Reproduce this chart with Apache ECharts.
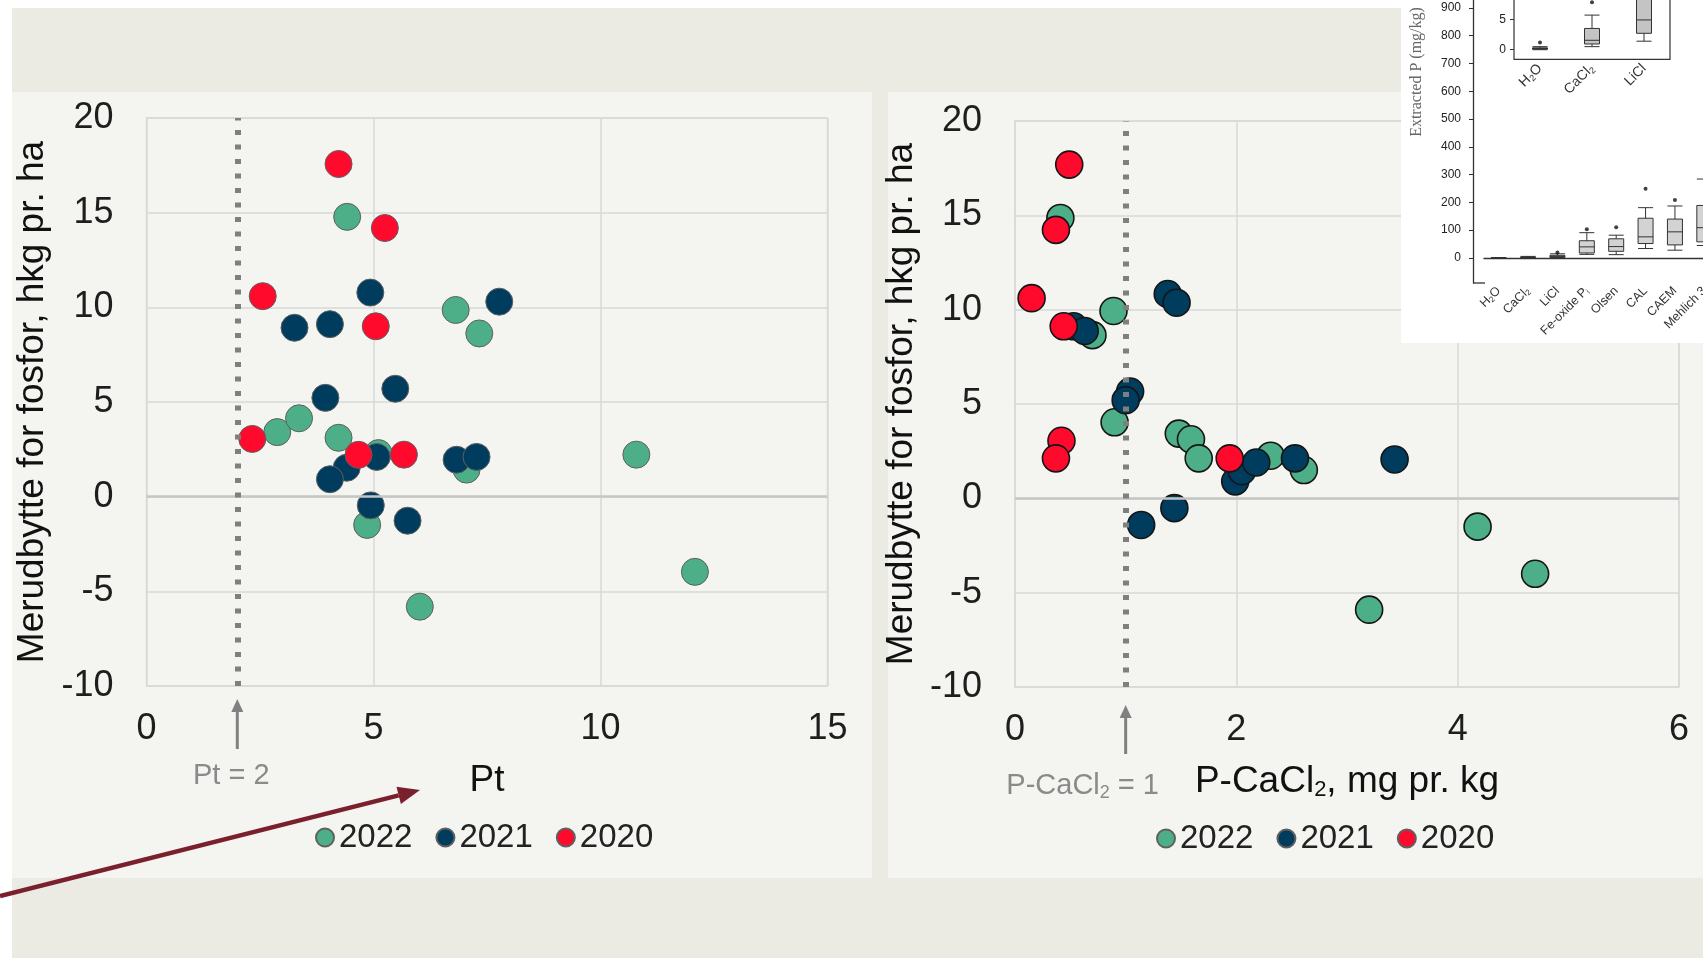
<!DOCTYPE html>
<html>
<head>
<meta charset="utf-8">
<script src="https://cdn.jsdelivr.net/npm/echarts@6/dist/echarts.min.js"></script>
<style>
html,body{margin:0;padding:0;background:#ffffff;}
#c{width:1703px;height:958px;}
</style>
</head>
<body>
<div id="c"></div>
<script>
// ---------- DATA ----------
const years = ['2022', '2021', '2020'];
const yearColors = ['#4daf88', '#003c5e', '#ff0a2d'];

// Left chart: Pt vs yield gain (hkg/ha)
const pt2022 = [[4.42,14.78],[6.81,9.86],[7.33,8.62],[2.88,3.41],[3.36,4.14],[4.23,3.11],[5.11,2.3],[7.05,1.43],[4.86,-1.49],[6.02,-5.81],[10.79,2.22],[12.08,-3.97]];
const pt2021 = [[4.93,10.78],[7.77,10.3],[3.26,8.92],[4.04,9.11],[3.94,5.22],[5.48,5.7],[5.07,2.1],[6.83,1.95],[7.27,2.1],[4.41,1.53],[4.04,0.92],[4.94,-0.46],[5.75,-1.27]];
const pt2020 = [[4.23,17.57],[5.25,14.19],[2.56,10.59],[5.05,9.0],[2.33,3.05],[4.67,2.21],[5.67,2.22]];

// Right chart: P-CaCl2 (mg/kg) vs yield gain (hkg/ha)
const ca2022 = [[0.41,14.86],[0.89,9.93],[0.70,8.65],[0.90,4.03],[1.48,3.43],[1.59,3.13],[1.66,2.12],[2.31,2.26],[2.61,1.5],[4.18,-1.5],[4.70,-4.0],[3.20,-5.9]];
const ca2021 = [[1.38,10.83],[1.46,10.37],[0.53,9.12],[0.63,8.87],[1.04,5.66],[1.0,5.2],[1.99,0.9],[2.05,1.44],[2.18,1.9],[2.53,2.12],[3.43,2.06],[1.44,-0.52],[1.14,-1.41]];
const ca2020 = [[0.49,17.69],[0.37,14.23],[0.15,10.61],[0.44,9.12],[0.42,3.05],[0.37,2.12],[1.94,2.12]];

const ptTicks = [0, 5, 10, 15];
const caTicks = [0, 2, 4, 6];
const gainTicks = [-10, -5, 0, 5, 10, 15, 20];
const ptThreshold = 2;
const caThreshold = 1;

// Inset: extracted P by method (box plot, mg/kg)
const methodLabels = ['H{s|2}O', 'CaCl{s|2}', 'LiCl', 'Fe-oxide P{s|i}', 'Olsen', 'CAL', 'CAEM', 'Mehlich 3'];
const methodStats = [
  [0, 0.1, 0.2, 0.3, 0.5],
  [0.5, 0.94, 1.55, 3.5, 5.7],
  [1.4, 2.7, 4.9, 9.5, 15],
  [13, 18, 40, 62, 91],
  [12, 24, 41, 69, 82],
  [34, 52, 76, 143, 181],
  [28, 47, 94, 140, 187],
  [45, 58, 109, 189, 284]
];
const methodOutliers = [[2, 20], [3, 103], [4, 111], [5, 249], [6, 209]];
const insetTicks = [0, 100, 200, 300, 400, 500, 600, 700, 800, 900];

const zoomLabels = ['H{s|2}O', 'CaCl{s|2}', 'LiCl'];
const zoomStats = [
  [0, 0.1, 0.2, 0.3, 0.5],
  [0.5, 0.94, 1.55, 3.5, 5.7],
  [1.4, 2.7, 4.9, 9.5, 15]
];
const zoomOutliers = [[0, 1.2], [1, 7.8]];
const zoomTicks = [0, 5];

// ---------- LAYOUT / STYLE ----------
const FF = "'Liberation Sans', Arial, Helvetica, sans-serif";
const gridLine = {lineStyle: {color: '#d9d9d9', width: 1.5}};

function mainX(grid, ticks, name, gap) {
  return {
    gridIndex: grid, type: 'value', min: ticks[0], max: ticks[ticks.length - 1],
    interval: ticks[1] - ticks[0],
    axisLine: {show: false}, axisTick: {show: false},
    splitLine: gridLine,
    axisLabel: {fontSize: 36, color: '#1e1e1e', margin: 25, fontFamily: FF},
    name: name, nameLocation: 'middle', nameGap: gap,
    nameTextStyle: {fontSize: 37, color: '#111', fontFamily: FF,
      rich: {s: {fontSize: 22, fontFamily: FF, color: '#111', padding: [16, 0, 0, 0]}}}
  };
}
function mainY(grid) {
  return {
    gridIndex: grid, type: 'value', min: gainTicks[0], max: gainTicks[gainTicks.length - 1],
    interval: gainTicks[1] - gainTicks[0],
    axisLine: {show: false}, axisTick: {show: false},
    splitLine: gridLine,
    axisLabel: {fontSize: 36, color: '#1e1e1e', margin: 33, fontFamily: FF},
    name: 'Merudbytte for fosfor, hkg pr. ha', nameLocation: 'middle', nameGap: 95,
    nameTextStyle: {fontSize: 37, color: '#111', fontFamily: FF}
  };
}
function scatterSeries(name, data, xi, color, border, bw) {
  return {
    name: name, type: 'scatter', xAxisIndex: xi, yAxisIndex: xi, data: data,
    symbolSize: 27, z: 2, silent: true,
    itemStyle: {color: color, borderColor: border, borderWidth: bw, opacity: 1}
  };
}
function lineMarker(xi, mark, style, z) {
  return {
    type: 'scatter', xAxisIndex: xi, yAxisIndex: xi, data: [], z: z, silent: true,
    markLine: {silent: true, symbol: 'none', animation: false, label: {show: false},
      data: [mark], lineStyle: style}
  };
}

const chart = echarts.init(document.getElementById('c'), null, {renderer: 'canvas'});

const option = {
  backgroundColor: '#ffffff',
  animation: false,
  grid: [
    {left: 146.5, top: 118, width: 681, height: 568, show: true, borderColor: '#d9d9d9', borderWidth: 1.5,
      backgroundColor: 'transparent', outerBoundsMode: 'none', containLabel: false},
    {left: 1015, top: 121, width: 664, height: 566, show: true, borderColor: '#d9d9d9', borderWidth: 1.5,
      backgroundColor: 'transparent', outerBoundsMode: 'none', containLabel: false},
    {left: 1484, top: -20, width: 235, height: 303, outerBoundsMode: 'none', containLabel: false},
    {left: 1514, top: -11, width: 156, height: 70.4, show: true, borderColor: '#333', borderWidth: 1.2,
      backgroundColor: '#ffffff', z: 4, outerBoundsMode: 'none', containLabel: false}
  ],
  xAxis: [
    mainX(0, ptTicks, 'Pt', 76),
    mainX(1, caTicks, 'P-CaCl{s|2}, mg pr. kg', 76),
    {gridIndex: 2, type: 'category', data: methodLabels, z: 4,
      axisLine: {show: true, lineStyle: {color: '#333', width: 1.3}},
      axisTick: {show: false}, splitLine: {show: false},
      axisLabel: {rotate: 45, fontSize: 12.5, color: '#333', margin: 6, interval: 0, fontFamily: FF,
        rich: {s: {fontSize: 8, color: '#333', padding: [6, 0, 0, 0]}}}},
    {gridIndex: 3, type: 'category', data: zoomLabels, z: 5,
      axisLine: {show: false}, axisTick: {show: false}, splitLine: {show: false},
      axisLabel: {rotate: 45, fontSize: 14, color: '#333', margin: 7, interval: 0, fontFamily: FF,
        rich: {s: {fontSize: 9, color: '#333', padding: [7, 0, 0, 0]}}}}
  ],
  yAxis: [
    mainY(0),
    mainY(1),
    {gridIndex: 2, type: 'value', min: -90, max: 1000, offset: 11, z: 4,
      axisLine: {show: true, lineStyle: {color: '#333', width: 1.3}},
      axisTick: {show: true, customValues: insetTicks, length: 4, lineStyle: {color: '#333'}},
      axisLabel: {customValues: insetTicks, fontSize: 12, color: '#222', margin: 12, fontFamily: FF},
      splitLine: {show: false}},
    {gridIndex: 3, type: 'value', min: -1.6, max: 10, z: 5,
      axisLine: {show: false},
      axisTick: {show: true, customValues: zoomTicks, length: 4, lineStyle: {color: '#333'}},
      axisLabel: {customValues: zoomTicks, fontSize: 12, color: '#222', margin: 8, fontFamily: FF},
      splitLine: {show: false}}
  ],
  legend: [
    {data: years, left: 315, top: 821, icon: 'circle', itemWidth: 18, itemHeight: 18, itemGap: 23,
      padding: 0, selectedMode: false, textStyle: {fontSize: 33, color: '#222', fontFamily: FF}},
    {data: years, left: 1156, top: 822, icon: 'circle', itemWidth: 18, itemHeight: 18, itemGap: 23,
      padding: 0, selectedMode: false, textStyle: {fontSize: 33, color: '#222', fontFamily: FF}}
  ],
  series: [
    lineMarker(0, {yAxis: 0}, {color: '#c6c6c6', width: 2.5, type: 'solid'}, 1),
    scatterSeries(years[0], pt2022, 0, yearColors[0], '#5f5f5f', 1),
    scatterSeries(years[1], pt2021, 0, yearColors[1], '#5f5f5f', 1),
    scatterSeries(years[2], pt2020, 0, yearColors[2], '#5f5f5f', 1),
    lineMarker(0, {xAxis: ptThreshold}, {color: '#7f7f7f', width: 6, type: [5, 9.5], cap: 'butt'}, 3),

    lineMarker(1, {yAxis: 0}, {color: '#c6c6c6', width: 2.5, type: 'solid'}, 1),
    scatterSeries(years[0], ca2022, 1, yearColors[0], '#151515', 1.6),
    scatterSeries(years[1], ca2021, 1, yearColors[1], '#151515', 1.6),
    scatterSeries(years[2], ca2020, 1, yearColors[2], '#151515', 1.6),
    lineMarker(1, {xAxis: caThreshold}, {color: '#7f7f7f', width: 6, type: [5, 9.5], cap: 'butt'}, 3),

    {name: 'methods', type: 'boxplot', xAxisIndex: 2, yAxisIndex: 2, data: methodStats, z: 5, silent: true,
      boxWidth: [15, 15], itemStyle: {color: '#d3d3d3', borderColor: '#333', borderWidth: 1}},
    {name: 'methodOut', type: 'scatter', xAxisIndex: 2, yAxisIndex: 2, data: methodOutliers, z: 5, silent: true,
      symbolSize: 4, itemStyle: {color: '#111'}},
    {name: 'zoomBox', type: 'boxplot', xAxisIndex: 3, yAxisIndex: 3, data: zoomStats, z: 6, silent: true,
      boxWidth: [15, 15], itemStyle: {color: '#c4c4c4', borderColor: '#333', borderWidth: 1}},
    {name: 'zoomOut', type: 'scatter', xAxisIndex: 3, yAxisIndex: 3, data: zoomOutliers, z: 6, silent: true,
      symbolSize: 4, itemStyle: {color: '#111'}}
  ]
};
chart.setOption(option);

// ---------- ANNOTATIONS (positions derived from the axes) ----------
const leftArrowX = chart.convertToPixel({xAxisIndex: 0}, ptThreshold);
const rightArrowX = chart.convertToPixel({xAxisIndex: 1}, caThreshold);
const insetAxisY = chart.convertToPixel({yAxisIndex: 2}, -90);

function grayArrow(x, tipY, baseY) {
  return [
    {type: 'line', z: 20, silent: true, shape: {x1: x, y1: tipY + 12, x2: x, y2: baseY},
      style: {stroke: '#808080', lineWidth: 3}},
    {type: 'polygon', z: 20, silent: true, shape: {points: [[x, tipY], [x - 6, tipY + 13], [x + 6, tipY + 13]]},
      style: {fill: '#808080'}}
  ];
}

const tip = [420, 790], tail = [0, 896];
const dx = tip[0] - tail[0], dy = tip[1] - tail[1], L = Math.hypot(dx, dy);
const ux = dx / L, uy = dy / L, hl = 22, hw = 9;
const bx = tip[0] - hl * ux, by = tip[1] - hl * uy;

const graphics = [
  {type: 'rect', z: -10, silent: true, shape: {x: 12, y: 8, width: 1691, height: 950}, style: {fill: '#ebebe4'}},
  {type: 'rect', z: -9, silent: true, shape: {x: 12, y: 92, width: 860, height: 786}, style: {fill: '#f4f4f0'}},
  {type: 'rect', z: -9, silent: true, shape: {x: 888, y: 92, width: 815, height: 786}, style: {fill: '#f4f4f0'}},
  {type: 'rect', z: 3, silent: true, shape: {x: 1401, y: 0, width: 302, height: 343}, style: {fill: '#ffffff'}},
  {type: 'line', z: 4, silent: true, shape: {x1: 1473, y1: insetAxisY, x2: 1485, y2: insetAxisY}, style: {stroke: '#333', lineWidth: 1.3}},
  {type: 'text', z: 6, silent: true, x: 1417, y: 72, rotation: Math.PI / 2,
    style: {text: 'Extracted P (mg/kg)', fontSize: 16, fontFamily: "'Liberation Serif', 'Times New Roman', serif",
      fill: '#666', align: 'center', verticalAlign: 'middle'}},
  ...grayArrow(leftArrowX, 699, 749),
  ...grayArrow(rightArrowX, 705, 754),
  {type: 'text', z: 20, silent: true, x: leftArrowX - 6, y: 776,
    style: {text: 'Pt = 2', fontSize: 29, fontFamily: FF, fill: '#8a8a8a', align: 'center', verticalAlign: 'middle'}},
  {type: 'text', z: 20, silent: true, x: rightArrowX - 43, y: 786,
    style: {text: '{a|P-CaCl}{s|2}{a| = 1}', fontSize: 29, fontFamily: FF, fill: '#8a8a8a', align: 'center', verticalAlign: 'middle',
      rich: {a: {fontSize: 29, fontFamily: FF, fill: '#8a8a8a'},
             s: {fontSize: 18, fontFamily: FF, fill: '#8a8a8a', padding: [14, 0, 0, 0]}}}},
  {type: 'line', z: 20, silent: true, shape: {x1: tail[0], y1: tail[1], x2: bx, y2: by},
    style: {stroke: '#7a1f2c', lineWidth: 4.5}},
  {type: 'polygon', z: 20, silent: true,
    shape: {points: [tip, [bx - hw * uy, by + hw * ux], [bx + hw * uy, by - hw * ux]]},
    style: {fill: '#7a1f2c'}}
];
chart.setOption({graphic: graphics});
</script>
</body>
</html>
